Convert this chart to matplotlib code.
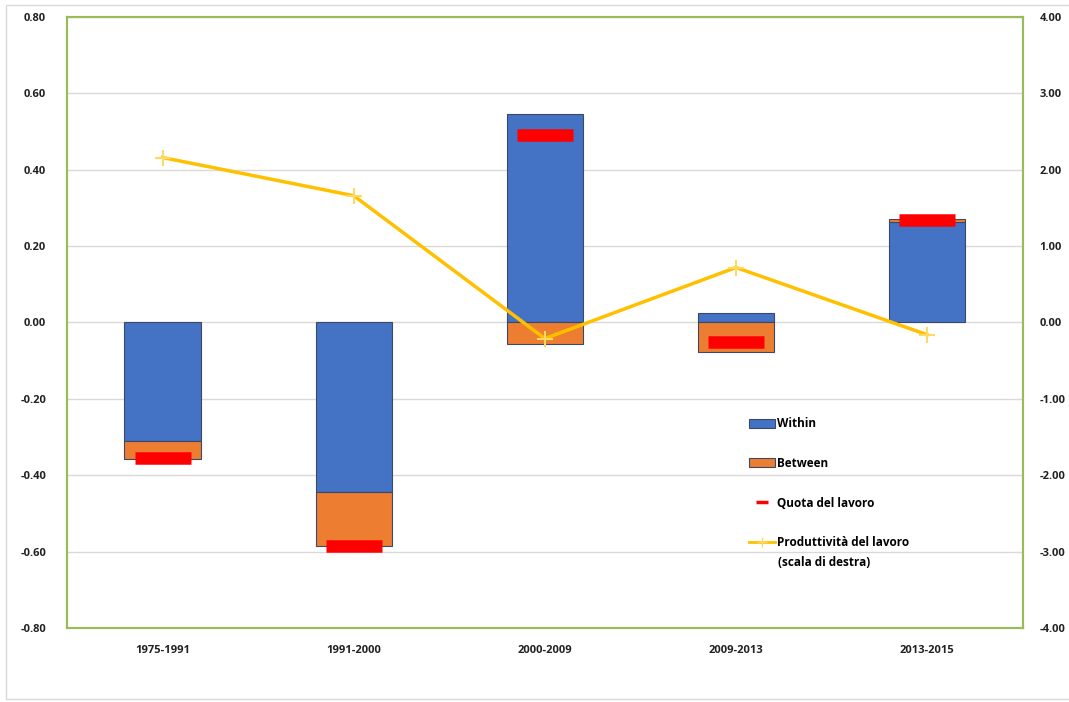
import matplotlib.pyplot as plt
import numpy as np
from matplotlib.patches import Rectangle, Patch
from matplotlib.lines import Line2D

# values
periods = ["1975-1991", "1991-2000", "2000-2009", "2009-2013", "2013-2015"]
within = [-0.31, -0.445, 0.545, 0.025, 0.263]
between = [-0.048, -0.14, -0.055, -0.077, 0.007]
quota = [-0.355, -0.585, 0.49, -0.051, 0.268]
produttivita = [2.16, 1.66, -0.21, 0.72, -0.16]

blue = "#4472C4"
orange = "#ED7D31"
red = "#FF0000"
gold = "#FFC000"
edge = "#3a4a66"

plt.rcParams['font.family'] = ['Open Sans', 'DejaVu Sans']

fig = plt.figure(figsize=(10.69, 7.02), dpi=100)
ax = fig.add_axes([0.0627, 0.1054, 0.894, 0.8704])
ax2 = ax.twinx()

x = np.arange(len(periods))
w = 0.40

within = np.array(within)
between = np.array(between)
# stack from zero like a spreadsheet stacked column
pos_w = np.where(within > 0, within, 0)
neg_w = np.where(within < 0, within, 0)

ax.bar(x, within, w, color=blue, edgecolor=edge, linewidth=0.8, zorder=2)
ax.bar(x, between, w, bottom=np.where(between > 0, pos_w, neg_w), color=orange,
       edgecolor=edge, linewidth=0.8, zorder=2)
ax.plot(x, quota, linestyle="none", marker="_", markersize=41, markeredgewidth=9,
        color=red, zorder=3)

ax2.plot(x, produttivita, color=gold, linewidth=2.5, marker="+", markersize=11,
         markeredgewidth=1.5, markeredgecolor="#FFD966", zorder=4)

ax.set_xlim(-0.5, 4.5)
ax.set_ylim(-0.8, 0.8)
ax2.set_ylim(-4, 4)
left_ticks = np.round(np.arange(-0.8, 0.81, 0.2), 2)
right_ticks = np.arange(-4, 5, 1)
ax.set_yticks(left_ticks)
ax.set_yticklabels(["%.2f" % (v + 0.0) for v in left_ticks])
ax2.set_yticks(right_ticks)
ax2.set_yticklabels(["%.2f" % v for v in right_ticks])
ax.set_xticks(x)
ax.set_xticklabels(periods)

for a in (ax, ax2):
    a.tick_params(length=0, labelsize=8)
    for lab in a.get_yticklabels() + a.get_xticklabels():
        lab.set_fontweight("bold")
        lab.set_color("#222222")
    for s in a.spines.values():
        s.set_color("#9BBB59")
        s.set_linewidth(1.5)
ax.tick_params(axis="y", pad=15)
ax.tick_params(axis="x", pad=12)
ax2.tick_params(axis="y", pad=12)

ax.grid(axis="y", color="#d9d9d9", linewidth=1, zorder=0)
ax.set_axisbelow(True)

handles = [
    Patch(facecolor=blue, edgecolor=edge, linewidth=0.8),
    Patch(facecolor=orange, edgecolor=edge, linewidth=0.8),
    Line2D([], [], linestyle="none", marker="_", markersize=9, markeredgewidth=2.5, color=red),
    Line2D([], [], color=gold, linewidth=2, marker="+", markersize=7,
           markeredgecolor="#FFD966"),
]
labels = ["Within", "Between", "Quota del lavoro", "Produttività del lavoro"]
ax2.legend(handles, labels, loc="upper left", bbox_to_anchor=(0.703, 0.362),
           frameon=False, labelspacing=2.25, handlelength=2.2, handleheight=0.8,
           handletextpad=0.1, prop={"weight": "bold", "size": 8.5})
ax2.text(0.744, 0.107, "(scala di destra)", transform=ax2.transAxes,
         fontsize=8.5, fontweight="bold", va="center", ha="left")

# light frame around the whole picture
fig.patches.append(Rectangle((0.006, 0.004), 1.2, 0.989, transform=fig.transFigure,
                             fill=False, edgecolor="#d9d9d9", linewidth=1))

fig.savefig("out.png", dpi=100)
